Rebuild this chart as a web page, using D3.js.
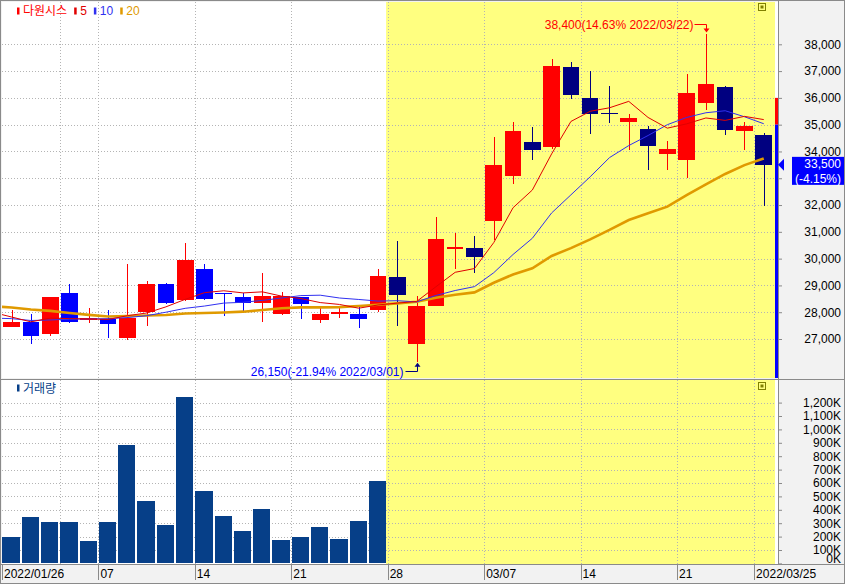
<!DOCTYPE html>
<html><head><meta charset="utf-8">
<script src="https://cdn.jsdelivr.net/npm/d3@7"></script>
<style>
body{margin:0;background:#f2f2f2}
svg{display:block}
text{font-family:"Liberation Sans","Noto Sans CJK KR",sans-serif;font-size:12px}
</style>
</head><body><svg id="c" width="845" height="584"></svg>
<script>
// ---------- data ----------
const dates = ["2022/01/26","2022/01/27","2022/01/28","2022/02/03","2022/02/04",
"2022/02/07","2022/02/08","2022/02/09","2022/02/10","2022/02/11",
"2022/02/14","2022/02/15","2022/02/16","2022/02/17","2022/02/18",
"2022/02/21","2022/02/22","2022/02/23","2022/02/24","2022/02/25",
"2022/02/28","2022/03/01","2022/03/02","2022/03/03","2022/03/04",
"2022/03/07","2022/03/08","2022/03/09","2022/03/10","2022/03/11",
"2022/03/14","2022/03/15","2022/03/16","2022/03/17","2022/03/18",
"2022/03/21","2022/03/22","2022/03/23","2022/03/24","2022/03/25"];
const open  = [27450,27650,27200,28700,27700,27750,27050,28000,29050,28450,29600,28700,28550,28350,27950,28550,27700,27950,27950,28100,
               29300,26800,28250,30350,30400,31400,33100,34350,34150,37150,36000,35450,35100,34850,33900,33700,35800,36400,34750,34600];
const high  = [28100,27950,28550,29050,28150,28100,29800,29150,29100,30600,29800,28700,28700,29450,28750,28550,28150,28200,28250,29600,
               30650,28600,31550,30950,30850,34550,35100,34900,37450,37350,37000,36450,35400,34950,34400,36900,38400,36450,35100,34700];
const low   = [27450,26800,27100,27600,27600,27050,26950,27500,28300,28400,28450,27850,28050,27650,27900,27750,27600,27800,27400,28000,
               27500,26150,28250,29600,29450,30700,32800,33700,34100,35950,34650,35050,34050,33300,33300,33000,35550,34600,34050,31950];
const close = [27650,27100,28550,27650,27800,27550,27800,29050,28350,29950,28500,28700,28350,28600,28600,28300,27950,28000,27750,29350,
               28650,28250,30750,30450,30050,33500,34750,34050,37200,36100,35400,35400,35250,34200,34100,36200,36500,34800,34950,33500];
// moving averages; the first value of each belongs to the session before the first date (line enters from the left edge)
const ma5  = [28000,27820,27640,27780,27760,27750,27730,27870,27970,28200,28480,28730,28800,28720,28760,28600,28510,28360,28290,28150,28270,
              28340,28400,28950,29490,29630,30600,31900,32560,33910,35120,35500,35630,35870,35270,34870,35030,35250,35160,35310,35190];
const ma10 = [27780,27760,27690,27710,27740,27750,27760,27800,27870,28000,28145,28230,28340,28370,28440,28530,28620,28635,28530,28475,28415,
              28430,28385,28625,28810,28955,29475,30155,30760,31705,32380,33055,33770,34220,34595,35000,35270,35445,35520,35295,35035];
const ma20 = [28225,28175,28100,28050,27970,27900,27840,27860,27875,27895,27950,27970,27990,28020,28080,28150,28180,28180,28190,28230,28280,
              28330,28390,28540,28650,28740,29100,29410,29640,30100,30390,30720,31070,31440,31690,31940,32370,32770,33160,33490,33740];
const volume = [200000,350000,310000,310000,167000,310000,884000,466000,287000,1244000,
                540000,354000,242000,406000,175000,199000,274000,182000,316000,617000];
const priceTicks  = d3.range(27000, 38001, 1000);
const volumeTicks = d3.range(0, 1200001, 100000);
const xTickDates  = ["2022/01/26","2022/02/07","2022/02/14","2022/02/21","2022/02/28","2022/03/07","2022/03/14","2022/03/21","2022/03/25"];
const xTickLabels = ["2022/01/26","07","14","21","28","03/07","14","21","2022/03/25"];
const gridDates   = ["2022/02/03","2022/02/07","2022/02/14","2022/02/21","2022/02/28","2022/03/07","2022/03/14","2022/03/21","2022/03/25"];
const highlightStart = "2022/02/28";
const lastClose = 33500, lastChangePct = -4.15;
const sideBarLevels = [36000, 35000];
const legendNames  = ["다원시스","5","10","20"];
const legendColors = ["#ff0000","#e00000","#3030f0","#e09a00"];

// ---------- setup ----------
const svg = d3.select("#c");
const L = 2, R = 778, PT = 2, PB = 378, VT = 380, VB = 564;
const x  = d3.scaleBand().domain(dates).range([L, L + 19.285 * dates.length]);
const cx = d => x(d) + x.bandwidth() / 2;
const y  = d3.scaleLinear().domain([27000, 38000]).range([339, 44.3]);
const yv = d3.scaleLinear().domain([0, 1200000]).range([563.4, 402.6]);
const hlX = x(highlightStart) - 1.6;
const inHL = i => i >= dates.indexOf(highlightStart);

svg.append("rect").attr("width", 845).attr("height", 584).attr("fill", "#f2f2f2");
const defs = svg.append("defs");
[[PT, PB, "cp"], [VT, VB, "cv"]].forEach(([t, b, id]) => {
  defs.append("clipPath").attr("id", id).append("rect")
    .attr("x", L).attr("y", t).attr("width", R - L).attr("height", b - t);
  svg.append("rect").attr("x", L).attr("y", t).attr("width", R - L).attr("height", b - t).attr("fill", "#fff");
  svg.append("rect").attr("x", hlX).attr("y", t).attr("width", 775 - hlX).attr("height", b - t).attr("fill", "#ffff80");
});

// ---------- grid ----------
const grid = svg.append("g").attr("stroke", "#b4b4b4").attr("stroke-dasharray", "1,2").attr("shape-rendering", "crispEdges");
grid.selectAll(".hp").data(priceTicks).join("line")
  .attr("x1", L).attr("x2", 775).attr("y1", d => Math.round(y(d)) + 0.5).attr("y2", d => Math.round(y(d)) + 0.5);
grid.selectAll(".hv").data(volumeTicks.filter(d => d > 0)).join("line").attr("class", "hv")
  .attr("x1", L).attr("x2", 775).attr("y1", d => Math.round(yv(d)) + 0.5).attr("y2", d => Math.round(yv(d)) + 0.5);
[[PT, PB], [VT, VB]].forEach(([t, b]) => {
  grid.append("g").selectAll("line").data(gridDates).join("line")
    .attr("x1", d => Math.round(x(d)) + 0.5).attr("x2", d => Math.round(x(d)) + 0.5).attr("y1", t).attr("y2", b);
});

// ---------- candles ----------
const gp = svg.append("g").attr("clip-path", "url(#cp)").attr("shape-rendering", "crispEdges");
const colorOf = i => close[i] > open[i] ? "#ff0000" : (inHL(i) ? "#000080" : "#0000ff");
const cand = gp.selectAll(".c").data(dates).join("g");
cand.append("line")
  .attr("x1", d => Math.round(cx(d)) + 0.5).attr("x2", d => Math.round(cx(d)) + 0.5)
  .attr("y1", (d, i) => y(high[i])).attr("y2", (d, i) => y(low[i]))
  .attr("stroke", (d, i) => colorOf(i));
cand.append("rect")
  .attr("x", d => cx(d) - 8.3).attr("width", 16.6)
  .attr("y", (d, i) => y(Math.max(open[i], close[i])))
  .attr("height", (d, i) => Math.max(1, Math.abs(y(open[i]) - y(close[i]))))
  .attr("fill", (d, i) => colorOf(i));

// ---------- moving averages ----------
const maX = i => cx(dates[0]) + (i - 1) * x.step();
const gm = svg.append("g").attr("clip-path", "url(#cp)").attr("fill", "none");
[[ma20, "#e09a00", 2.6], [ma10, "#3030f0", 1], [ma5, "#e00000", 1]].forEach(([arr, c, w]) => {
  gm.append("path").datum(arr)
    .attr("d", d3.line().x((d, i) => maX(i)).y(d => y(d)))
    .attr("stroke", c).attr("stroke-width", w);
});

// ---------- volume ----------
svg.append("g").attr("clip-path", "url(#cv)").attr("shape-rendering", "crispEdges")
  .selectAll("rect").data(volume).join("rect")
  .attr("x", (d, i) => x(dates[i]) + 0.4).attr("width", x.bandwidth() - 1.9)
  .attr("y", d => yv(d)).attr("height", d => yv(0) - yv(d))
  .attr("fill", "#063f88");

// ---------- side bar ----------
svg.append("rect").attr("x", 775).attr("width", 3).attr("y", y(sideBarLevels[0])).attr("height", y(sideBarLevels[1]) - y(sideBarLevels[0])).attr("fill", "#ff0000");
svg.append("rect").attr("x", 775).attr("width", 3).attr("y", y(sideBarLevels[1])).attr("height", PB - y(sideBarLevels[1])).attr("fill", "#0000ff");

// ---------- borders ----------
const bd = svg.append("g").attr("stroke", "#8a8a8a").attr("shape-rendering", "crispEdges");
bd.append("rect").attr("x", 0.5).attr("y", 0.5).attr("width", 844).attr("height", 583).attr("fill", "none");
bd.append("line").attr("x1", 778.5).attr("x2", 778.5).attr("y1", 0).attr("y2", 565);
bd.append("line").attr("x1", 0).attr("x2", 845).attr("y1", 379).attr("y2", 379);
bd.append("line").attr("x1", 0).attr("x2", 845).attr("y1", 564.5).attr("y2", 564.5);

// ---------- right axes ----------
const cy = y(lastClose);
const hiddenByBox = d => Math.abs(y(d) - (cy + 6)) < 14;   // labels covered by the current-price box
const pa = svg.append("g").attr("transform", "translate(778,0)")
  .call(d3.axisRight(y).tickValues(priceTicks).tickSize(4).tickFormat(d => hiddenByBox(d) ? "" : d3.format(",")(d)));
pa.select(".domain").remove();
pa.selectAll("line").attr("stroke", "#8a8a8a");
pa.selectAll("text").attr("x", 63).attr("text-anchor", "end").attr("fill", "#000").style("font-size", "12px").style("font-family", "Liberation Sans");

const va = svg.append("g").attr("transform", "translate(778,0)")
  .call(d3.axisRight(yv).tickValues(volumeTicks).tickSize(4).tickFormat(d => d3.format(",")(d / 1000) + "K"));
va.select(".domain").remove();
va.selectAll("line").attr("stroke", "#8a8a8a");
va.selectAll("text").attr("x", 63).attr("text-anchor", "end").attr("fill", "#000").style("font-size", "12px").style("font-family", "Liberation Sans")
  .attr("dy", d => d === 0 ? "-0.05em" : "0.32em");

// ---------- x axis ----------
const xa = svg.append("g");
xa.selectAll("line").data(xTickDates).join("line")
  .attr("x1", d => Math.round(x(d)) + 0.5).attr("x2", d => Math.round(x(d)) + 0.5)
  .attr("y1", 565).attr("y2", 580).attr("stroke", "#8a8a8a");
xa.selectAll("text").data(xTickDates).join("text")
  .attr("x", d => x(d) + 2).attr("y", 578).text((d, i) => xTickLabels[i]);

// ---------- current price marker ----------
svg.append("path").attr("d", `M778,${cy}L784,${cy - 6}L784,${cy + 6}Z`).attr("fill", "#0000ff");
svg.append("rect").attr("x", 792).attr("y", cy - 8).attr("width", 52).attr("height", 28).attr("fill", "#0000ff");
svg.append("text").attr("x", 841).attr("y", cy + 3.5).attr("text-anchor", "end").attr("fill", "#fff").text(d3.format(",")(lastClose));
svg.append("text").attr("x", 841).attr("y", cy + 18.5).attr("text-anchor", "end").attr("fill", "#fff").text(`(${lastChangePct.toFixed(2)}%)`);

// ---------- hi / lo annotations ----------
const hiI = d3.maxIndex(high), loI = d3.minIndex(low);
const pct = v => ((v - lastClose) / lastClose * 100).toFixed(2);
{
  const px = Math.round(cx(dates[hiI])) + 0.5, py = y(high[hiI]), ty = py - 9.5;
  svg.append("text").attr("x", px - 13).attr("y", ty + 4.5).attr("text-anchor", "end").attr("fill", "#ff0000")
    .text(`${d3.format(",")(high[hiI])}(${pct(high[hiI])}% ${dates[hiI]})`);
  svg.append("path").attr("d", `M${px - 12},${Math.round(ty) + 0.5}H${px}V${py - 3}`).attr("fill", "none").attr("stroke", "#ff0000");
  svg.append("path").attr("d", `M${px - 3},${py - 5}L${px + 3},${py - 5}L${px},${py - 1}Z`).attr("fill", "#ff0000");
}
{
  const px = Math.round(cx(dates[loI])) + 0.5, py = y(low[loI]), ty = py + 9.5;
  svg.append("text").attr("x", px - 14).attr("y", ty + 4.5).attr("text-anchor", "end").attr("fill", "#0000ff")
    .text(`${d3.format(",")(low[loI])}(${pct(low[loI])}% ${dates[loI]})`);
  svg.append("path").attr("d", `M${px - 12},${Math.round(ty) + 0.5}H${px}V${py + 3}`).attr("fill", "none").attr("stroke", "#000080");
  svg.append("path").attr("d", `M${px - 3},${py + 5}L${px + 3},${py + 5}L${px},${py + 1}Z`).attr("fill", "#000080");
}

// ---------- legends ----------
let lx = 17;
legendNames.forEach((n, i) => {
  svg.append("rect").attr("x", lx).attr("y", 7.5).attr("width", 2.5).attr("height", 7).attr("fill", legendColors[i]);
  const t = svg.append("text").attr("x", lx + 6).attr("y", 15).attr("fill", legendColors[i]).text(n);
  lx = lx + 6 + t.node().getComputedTextLength() + 7;
});
svg.append("rect").attr("x", 17).attr("y", 384.5).attr("width", 2.5).attr("height", 7).attr("fill", "#063f88");
svg.append("text").attr("x", 23).attr("y", 393).attr("fill", "#063f88").text("거래량");

// ---------- panel icons ----------
[3, 382].forEach(t => {
  svg.append("rect").attr("x", 758.5).attr("y", t + 0.5).attr("width", 7).attr("height", 7).attr("fill", "#ffff80").attr("stroke", "#808000");
  svg.append("rect").attr("x", 760.5).attr("y", t + 2.5).attr("width", 3).attr("height", 3).attr("fill", "#808000");
});
</script></body></html>
